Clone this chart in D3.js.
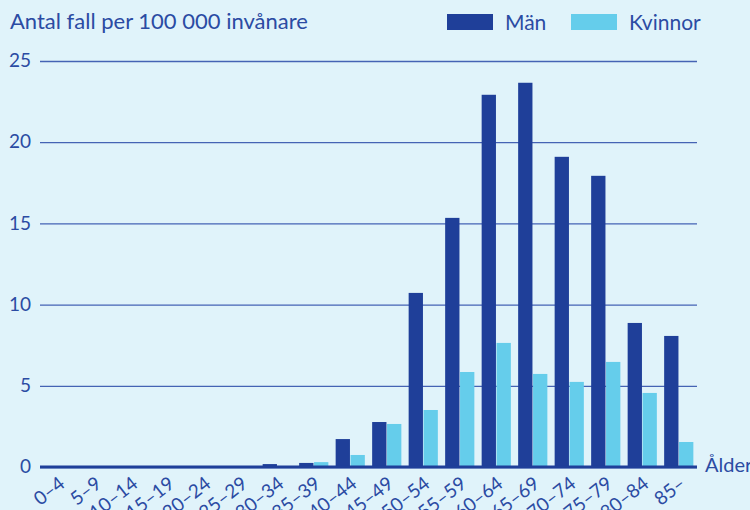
<!DOCTYPE html>
<html>
<head>
<meta charset="utf-8">
<style>
  body { margin: 0; background: #e0f3fa; }
  svg { display: block; font-family: Lato, "Open Sans", sans-serif; }
</style>
</head>
<body>
<svg width="750" height="510"></svg>
<script src="https://d3js.org/d3.v7.min.js"></script>
<script>
// data
var ages = ['0–4', '5–9', '10–14', '15–19', '20–24', '25–29', '30–34', '35–39', '40–44',
  '45–49', '50–54', '55–59', '60–64', '65–69', '70–74', '75–79', '80–84', '85–'];
var men = [0, 0, 0, 0, 0, 0, 0.18, 0.25, 1.72, 2.77, 10.72, 15.34, 22.92, 23.66, 19.1, 17.93, 8.87, 8.07];
var women = [0, 0, 0, 0, 0, 0, 0, 0.3, 0.74, 2.65, 3.51, 5.85, 7.64, 5.73, 5.24, 6.47, 4.56, 1.54];
var yTicks = [0, 5, 10, 15, 20, 25];
var seriesNames = ['Män', 'Kvinnor'];

var colMen = '#1f3f99', colWomen = '#65cdeb', textCol = '#2b4ba3';

var svg = d3.select('svg');
svg.append('rect').attr('width', 750).attr('height', 510).attr('fill', '#e0f3fa');

var m = { left: 40, right: 697, top: 61, bottom: 467 };

var x0 = d3.scaleBand().domain(ages).range([m.left, m.right]).paddingInner(0.2).paddingOuter(0.1);
var x1 = d3.scaleBand().domain(seriesNames).range([0, x0.bandwidth()]).paddingInner(0.04);
var y = d3.scaleLinear().domain([0, 25]).range([m.bottom, m.top]);

// gridlines + y labels
var yAxis = svg.append('g').attr('transform', 'translate(' + m.left + ',0)')
  .call(d3.axisLeft(y).tickValues(yTicks).tickSize(-(m.right - m.left)).tickPadding(9));
yAxis.select('.domain').remove();
yAxis.selectAll('.tick line').attr('stroke', '#4563b4').attr('stroke-width', 1.3);
yAxis.selectAll('.tick text').attr('fill', textCol).attr('font-size', 19)
  .attr('font-family', 'Lato, sans-serif').attr('dy', '0.3em');

// bars
var data = ages.map(function (a, i) { return { age: a, vals: [men[i], women[i]] }; });
var groups = svg.append('g').selectAll('g').data(data).join('g')
  .attr('transform', function (d) { return 'translate(' + x0(d.age) + ',0)'; });
groups.selectAll('rect').data(function (d) {
  return d.vals.map(function (v, j) { return { s: seriesNames[j], v: v }; });
}).join('rect')
  .attr('x', function (d) { return x1(d.s); })
  .attr('width', x1.bandwidth())
  .attr('y', function (d) { return y(d.v); })
  .attr('height', function (d) { return y(0) - y(d.v); })
  .attr('fill', function (d) { return d.s === 'Män' ? colMen : colWomen; });

// baseline
svg.append('line').attr('x1', m.left).attr('x2', m.right).attr('y1', y(0)).attr('y2', y(0))
  .attr('stroke', colMen).attr('stroke-width', 3);

// x labels
svg.append('g').selectAll('text').data(ages).join('text')
  .attr('transform', function (d) {
    return 'translate(' + (x0(d) + x0.bandwidth() / 2 + 8) + ',486) rotate(-38)';
  })
  .attr('text-anchor', 'end')
  .attr('fill', textCol).attr('font-size', 19)
  .text(function (d) { return d; });

svg.append('text').attr('x', 705).attr('y', 472).attr('fill', textCol)
  .attr('font-size', 20).text('Ålder');

// title
svg.append('text').attr('x', 10).attr('y', 29).attr('fill', textCol)
  .attr('font-size', 22).text('Antal fall per 100 000 invånare');

// legend
var legX = [447, 571];
var leg = svg.append('g').selectAll('g').data(seriesNames).join('g')
  .attr('transform', function (d, i) { return 'translate(' + legX[i] + ',14)'; });
leg.append('rect').attr('width', 46).attr('height', 16)
  .attr('fill', function (d, i) { return i === 0 ? colMen : colWomen; });
leg.append('text').attr('x', 58).attr('y', 16).attr('fill', textCol)
  .attr('font-size', 21).text(function (d) { return d; });
</script>
</body>
</html>
